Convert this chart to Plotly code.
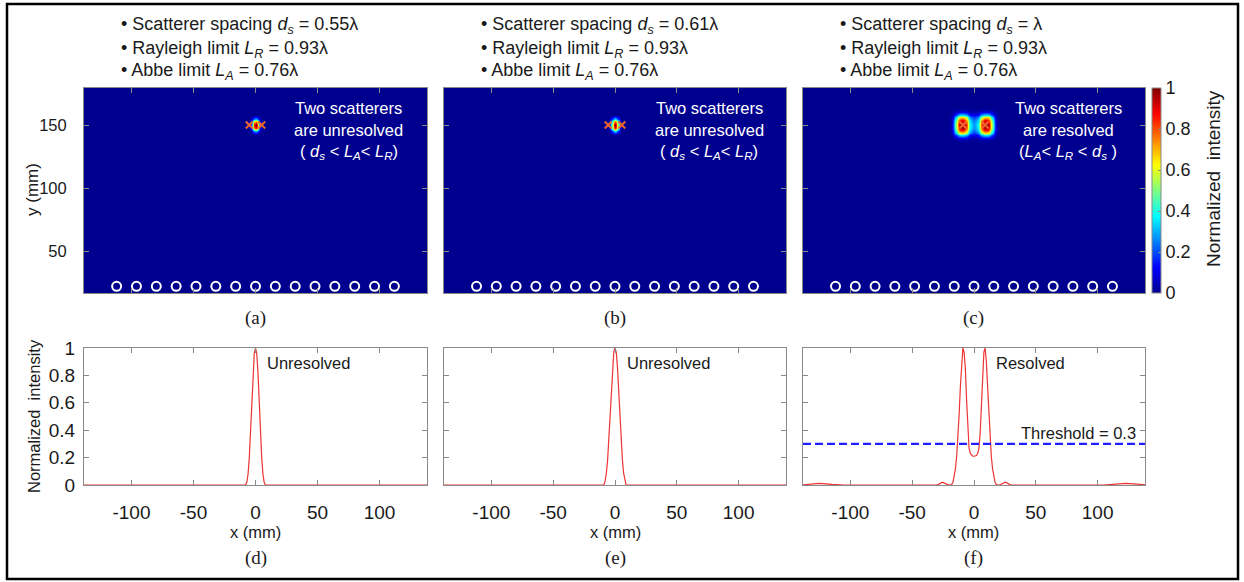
import plotly.graph_objects as go

W, H = 1244, 582

# ---------------- data ----------------
top_tags = ["(a)", "(b)", "(c)"]
bottom_tags = ["(d)", "(e)", "(f)"]
spacing_labels = ["0.55λ", "0.61λ", "λ"]
rayleigh_label = "0.93λ"
abbe_label = "0.76λ"
state_labels = ["unresolved", "unresolved", "resolved"]
profile_labels = ["Unresolved", "Unresolved", "Resolved"]

# transducer (array element) positions, mm
transducer_x = [-112, -96, -80, -64, -48, -32, -16, 0, 16, 32, 48, 64, 80, 96, 112]
transducer_y = [22, 22, 22, 22, 22, 22, 22, 22, 22, 22, 22, 22, 22, 22, 22]

# scatterer positions, mm
scatterer_x_a = [-5.0, 5.0]
scatterer_x_b = [-5.5, 5.5]
scatterer_x_c = [-9.0, 9.0]
scatterer_y = [150, 150]

# lateral intensity profiles at y = 150 mm (panels d, e, f)
prof_d_x = [-140, -60, -10, -8, -7, -6, -5, -4, -3, -2, -1, 0, 1, 2, 3, 4, 5, 6, 7, 8, 10, 60, 140]
prof_d_v = [0, 0, 0, 0, 0.02, 0.08, 0.2, 0.4, 0.6, 0.82, 0.96, 1.0, 0.96, 0.82, 0.6, 0.4, 0.2, 0.08, 0.02, 0, 0, 0, 0]

prof_e_x = [-140, -60, -10, -9, -8, -7, -6, -5, -4, -3, -2, -1, 0, 1, 2, 3, 4, 5, 6, 7, 8, 9, 10, 60, 140]
prof_e_v = [0, 0, 0, 0, 0.03, 0.085, 0.18, 0.34, 0.5, 0.68, 0.86, 0.97, 1.0, 0.97, 0.86, 0.68, 0.5, 0.34, 0.18, 0.085, 0.03, 0, 0, 0, 0]

prof_f_x = [-140, -135, -125, -115, -105, -40, -30, -28, -25.5, -23, -20.5, -19, -18, -17, -16, -15, -14, -13,
            -12, -11, -10, -9, -8, -7, -6, -5, -4, -3, -2, -1, 0,
            1, 2, 3, 4, 5, 6, 7, 8, 9, 10, 11, 12, 13, 14, 15, 16, 17, 18, 19, 20.5, 23, 25.5, 28, 30,
            40, 105, 115, 123, 132, 140]
prof_f_v = [0, 0.005, 0.012, 0.004, 0, 0, 0, 0.008, 0.02, 0.01, 0, 0, 0.005, 0.02, 0.06, 0.12, 0.21, 0.34,
            0.52, 0.72, 0.9, 1.0, 0.97, 0.85, 0.62, 0.38, 0.27, 0.23, 0.215, 0.21, 0.21,
            0.21, 0.215, 0.23, 0.27, 0.38, 0.62, 0.85, 0.97, 1.0, 0.9, 0.72, 0.52, 0.34, 0.21, 0.12, 0.06,
            0.02, 0.005, 0, 0, 0.01, 0.02, 0.008, 0,
            0, 0, 0.006, 0.012, 0.006, 0]
threshold = 0.3

# focal-spot shapes in the intensity maps (panels a, b, c)
spot_a_x = [-140, -6, -5, -4, -3, -2, -1, 0, 1, 2, 3, 4, 5, 6, 140]
spot_a_xv = [0, 0, 0.03, 0.12, 0.33, 0.6, 0.88, 1.0, 0.88, 0.6, 0.33, 0.12, 0.03, 0, 0]
spot_a_y = [0, 142, 143, 144, 145, 146, 147, 148, 149, 150, 151, 152, 153, 154, 155, 156, 157, 158, 200]
spot_a_yv = [0, 0, 0.05, 0.14, 0.3, 0.5, 0.7, 0.86, 0.96, 1.0, 0.96, 0.86, 0.7, 0.5, 0.3, 0.14, 0.05, 0, 0]

spot_b_x = [-140, -6, -5, -4, -3, -2, -1, 0, 1, 2, 3, 4, 5, 6, 140]
spot_b_xv = [0, 0, 0.04, 0.15, 0.38, 0.65, 0.9, 1.0, 0.9, 0.65, 0.38, 0.15, 0.04, 0, 0]
spot_b_y = [0, 142, 143, 144, 145, 146, 147, 148, 149, 150, 151, 152, 153, 154, 155, 156, 157, 158, 200]
spot_b_yv = [0, 0, 0.07, 0.18, 0.35, 0.55, 0.74, 0.88, 0.97, 1.0, 0.97, 0.88, 0.74, 0.55, 0.35, 0.18, 0.07, 0, 0]

spot_c_x = [-140, -21, -19, -18, -17, -16, -15, -14, -13, -12, -11, -10, -9, -8, -7, -6, -5, -4, -3, -2, -1, 0,
            1, 2, 3, 4, 5, 6, 7, 8, 9, 10, 11, 12, 13, 14, 15, 16, 17, 18, 19, 21, 140]
spot_c_xv = [0, 0, 0.04, 0.1, 0.18, 0.3, 0.45, 0.62, 0.78, 0.9, 0.97, 1.0, 1.0, 0.97, 0.9, 0.78, 0.62, 0.48, 0.38,
             0.32, 0.29, 0.28,
             0.29, 0.32, 0.38, 0.48, 0.62, 0.78, 0.9, 0.97, 1.0, 1.0, 0.97, 0.9, 0.78, 0.62, 0.45, 0.3, 0.18, 0.1,
             0.04, 0, 0]
spot_c_y = [0, 136, 138, 140, 142, 144, 146, 148, 150, 152, 154, 156, 158, 160, 162, 164, 200]
spot_c_yv = [0, 0, 0.03, 0.12, 0.35, 0.65, 0.87, 0.96, 1.0, 0.96, 0.87, 0.65, 0.35, 0.12, 0.03, 0, 0]

colorbar_ticks = [0, 0.2, 0.4, 0.6, 0.8, 1]
colorbar_ticktext = ["0", "0.2", "0.4", "0.6", "0.8", "1"]
map_yticks = [50, 100, 150]
prof_yticks = [0, 0.2, 0.4, 0.6, 0.8, 1]
prof_yticktext = ["0", "0.2", "0.4", "0.6", "0.8", "1"]
xticks = [-100, -50, 0, 50, 100]
xticktext = ["-100", "-50", "0", "50", "100"]

# ---------------- layout geometry (pixels) ----------------
cols = [(84, 427), (444, 786), (803, 1145)]
top_rows = (88, 293)
bot_rows = (348, 485)
X_RANGE = [-138.3, 138.3]
Y_RANGE_MAP = [16.7, 179.4]

FONT = "Liberation Sans, Arial, sans-serif"
SERIF = "Liberation Serif, Times New Roman, serif"
TXT = "#1a1a1a"
AX = "#8a8a8a"

def fx(p):
    return p / W

def fy(p):
    return 1 - p / H

jet = [[0.0, "rgb(0,0,143)"], [0.125, "rgb(0,0,255)"], [0.375, "rgb(0,255,255)"],
       [0.625, "rgb(255,255,0)"], [0.875, "rgb(255,0,0)"], [1.0, "rgb(128,0,0)"]]

fig = go.Figure()

spots = [
    (spot_a_x, spot_a_xv, spot_a_y, spot_a_yv, scatterer_x_a),
    (spot_b_x, spot_b_xv, spot_b_y, spot_b_yv, scatterer_x_b),
    (spot_c_x, spot_c_xv, spot_c_y, spot_c_yv, scatterer_x_c),
]

for i, (hx, hxv, hy, hyv, sx) in enumerate(spots):
    xa = "x" if i == 0 else f"x{i + 1}"
    ya = "y" if i == 0 else f"y{i + 1}"
    z = [[yv * xv for xv in hxv] for yv in hyv]
    hm = dict(x=hx, y=hy, z=z, colorscale=jet, zmin=0, zmax=1, zsmooth="best",
              xaxis=xa, yaxis=ya, showscale=(i == 2))
    if i == 2:
        hm["colorbar"] = dict(
            x=fx(1152), xanchor="left", xpad=0, ypad=0,
            thickness=9, thicknessmode="pixels",
            len=(top_rows[1] - top_rows[0]) / H, lenmode="fraction",
            y=fy((top_rows[0] + top_rows[1]) / 2), yanchor="middle",
            tickvals=colorbar_ticks, ticktext=colorbar_ticktext,
            ticks="inside", ticklen=3, tickcolor=AX,
            outlinewidth=1, outlinecolor=AX,
            tickfont=dict(family=FONT, size=18, color=TXT),
        )
    fig.add_trace(go.Heatmap(**hm))
    fig.add_trace(go.Scatter(x=transducer_x, y=transducer_y, mode="markers", xaxis=xa, yaxis=ya,
                             marker=dict(symbol="circle-open", size=9, color="white", line=dict(width=2, color="white")),
                             showlegend=False, hoverinfo="skip"))
    fig.add_trace(go.Scatter(x=sx, y=scatterer_y, mode="markers", xaxis=xa, yaxis=ya,
                             marker=dict(symbol="x-thin-open", size=7, color="#f0642d", line=dict(width=2, color="#f0642d")),
                             showlegend=False, hoverinfo="skip"))

profiles = [(prof_d_x, prof_d_v), (prof_e_x, prof_e_v), (prof_f_x, prof_f_v)]
for i, (px_, pv_) in enumerate(profiles):
    xa = f"x{i + 4}"
    ya = f"y{i + 4}"
    fig.add_trace(go.Scatter(x=px_, y=pv_, mode="lines", xaxis=xa, yaxis=ya,
                             line=dict(color="#ee3434", width=1.2), showlegend=False, hoverinfo="skip"))

fig.add_trace(go.Scatter(x=X_RANGE, y=[threshold, threshold], mode="lines", xaxis="x6", yaxis="y6",
                         line=dict(color="#1f1fff", width=2.4, dash="8px,4px"), showlegend=False, hoverinfo="skip"))

def axis(domain, anchor, rng, tickvals, ticktext=None, show_labels=True, size=16, standoff=6):
    d = dict(domain=domain, anchor=anchor, range=rng, showgrid=False, zeroline=False,
             showline=True, linecolor=AX, linewidth=1, mirror="ticks", ticks="inside",
             ticklen=5, tickcolor=AX, tickwidth=1, tickvals=tickvals,
             showticklabels=show_labels, ticklabelstandoff=standoff,
             tickfont=dict(family=FONT, size=size, color=TXT), fixedrange=True)
    if ticktext is not None:
        d["ticktext"] = ticktext
    return d

layout = {}
for i, (c0, c1) in enumerate(cols):
    n = "" if i == 0 else str(i + 1)
    layout[f"xaxis{n}"] = axis([fx(c0), fx(c1)], "y" + n, X_RANGE, xticks, show_labels=False)
    layout[f"yaxis{n}"] = axis([fy(top_rows[1]), fy(top_rows[0])], "x" + n, Y_RANGE_MAP, map_yticks,
                               show_labels=(i == 0), size=16.5, standoff=13)
    m = str(i + 4)
    layout[f"xaxis{m}"] = axis([fx(c0), fx(c1)], "y" + m, X_RANGE, xticks, xticktext, size=19, standoff=10)
    layout[f"yaxis{m}"] = axis([fy(bot_rows[1]), fy(bot_rows[0])], "x" + m, [0, 1], prof_yticks, prof_yticktext,
                               show_labels=(i == 0), size=19, standoff=4)

annotations = []

def ann(text, x, y, size=16, color=TXT, xanchor="center", family=FONT, angle=0):
    annotations.append(dict(text=text, x=fx(x), y=fy(y), xref="paper", yref="paper", showarrow=False,
                            xanchor=xanchor, yanchor="middle", textangle=angle,
                            font=dict(family=family, size=size, color=color)))

for i, (c0, c1) in enumerate(cols):
    cx = (c0 + c1) / 2
    bx = c0 + 35
    ann(f"• Scatterer spacing <i>d</i><sub><i>s</i></sub> = {spacing_labels[i]}", bx, 26, 18, xanchor="left")
    ann(f"• Rayleigh limit <i>L</i><sub><i>R</i></sub> = {rayleigh_label}", bx, 49, 18, xanchor="left")
    ann(f"• Abbe limit <i>L</i><sub><i>A</i></sub> = {abbe_label}", bx, 71, 18, xanchor="left")
    tx = c0 + 265
    ann("Two scatterers", tx, 108, 16.5, "white")
    ann(f"are {state_labels[i]}", tx, 130, 16.5, "white")
    if i < 2:
        cond = "( <i>d<sub>s</sub></i> &lt; <i>L<sub>A</sub></i>&lt; <i>L<sub>R</sub></i>)"
    else:
        cond = "(<i>L<sub>A</sub></i>&lt; <i>L<sub>R</sub></i> &lt; <i>d<sub>s</sub></i> )"
    ann(cond, tx, 152, 16.5, "white")
    ann(top_tags[i], cx, 318, 19, family=SERIF)
    ann(bottom_tags[i], cx, 558, 19, family=SERIF)
    ann("x (mm)", cx, 532, 16.5)
    ann(profile_labels[i], c0 + (181 if i < 2 else 191), 363, 16.5, xanchor="left")

annotations.append(dict(text="Threshold = 0.3", x=fx(1138), y=fy(433), xref="paper", yref="paper",
                        showarrow=False, xanchor="right", yanchor="middle",
                        font=dict(family=FONT, size=16.5, color=TXT)))
ann("y (mm)", 33, 190, 17, angle=-90)
ann("Normalized  intensity", 34, 416, 16.5, angle=-90)
ann("Normalized  intensity", 1213, 179, 19, angle=-90)

layout.update(dict(
    width=W, height=H,
    margin=dict(l=0, r=0, t=0, b=0, autoexpand=False),
    paper_bgcolor="white", plot_bgcolor="white",
    showlegend=False,
    annotations=annotations,
    shapes=[dict(type="rect", xref="paper", yref="paper", x0=fx(7), x1=fx(1238), y0=fy(579), y1=fy(4),
                 line=dict(color="black", width=2.5), fillcolor="rgba(0,0,0,0)", layer="above")],
))
fig.update_layout(**layout)

fig.write_html("out.html", config={"displayModeBar": False},
               post_script="document.body.style.margin='0px';document.body.style.overflow='hidden';")
